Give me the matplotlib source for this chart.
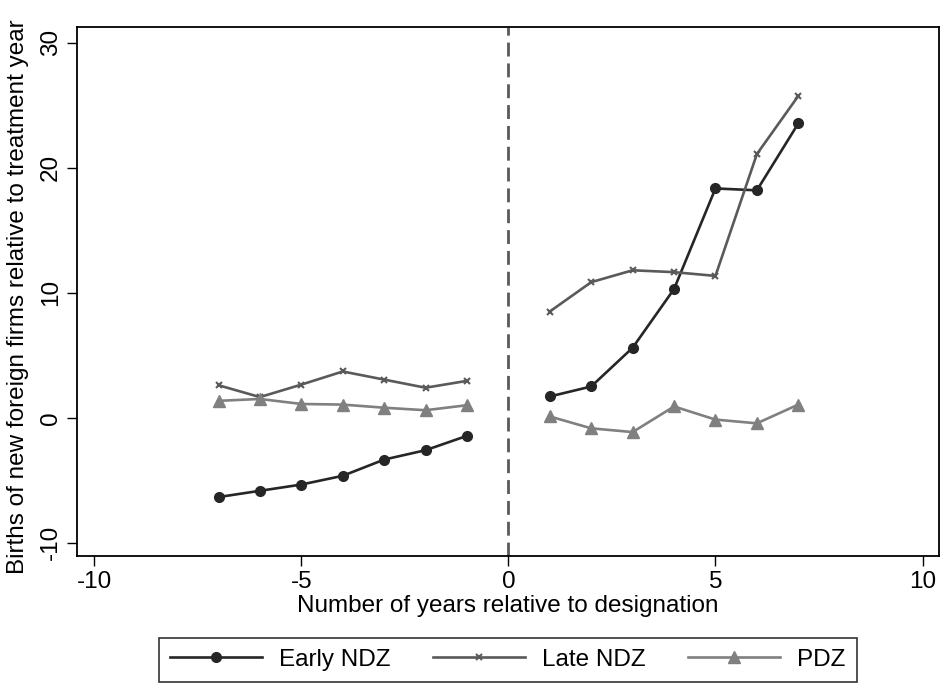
import matplotlib
matplotlib.use("Agg")
import matplotlib.pyplot as plt

plt.rcParams['font.family'] = ['Liberation Sans', 'DejaVu Sans']

years_pre = [-7, -6, -5, -4, -3, -2, -1]
years_post = [1, 2, 3, 4, 5, 6, 7]

early_pre = [-6.35, -5.85, -5.35, -4.65, -3.35, -2.6, -1.45]
early_post = [1.7, 2.5, 5.6, 10.3, 18.35, 18.2, 23.55]

late_pre = [2.6, 1.65, 2.65, 3.7, 3.05, 2.4, 2.95]
late_post = [8.5, 10.85, 11.8, 11.65, 11.35, 21.1, 25.75]

pdz_pre = [1.35, 1.5, 1.1, 1.05, 0.8, 0.6, 1.0]
pdz_post = [0.1, -0.85, -1.15, 0.9, -0.15, -0.45, 1.05]

xticks = [-10, -5, 0, 5, 10]
yticks = [-10, 0, 10, 20, 30]

c_early = '#262626'
c_late = '#5a5a5a'
c_pdz = '#808080'
fs = 17.5

fig = plt.figure(figsize=(9.45, 6.84), dpi=100)
ax = fig.add_axes([0.0818, 0.1871, 0.9115, 0.7734])

lw = 1.9
ax.plot(years_pre, early_pre, color=c_early, lw=lw, marker='o', ms=7, label='Early NDZ')
ax.plot(years_post, early_post, color=c_early, lw=lw, marker='o', ms=7)
ax.plot(years_pre, late_pre, color=c_late, lw=lw, marker='x', ms=4, mew=1.5, label='Late NDZ')
ax.plot(years_post, late_post, color=c_late, lw=lw, marker='x', ms=4, mew=1.5)
ax.plot(years_pre, pdz_pre, color=c_pdz, lw=lw, marker='^', ms=8, label='PDZ')
ax.plot(years_post, pdz_post, color=c_pdz, lw=lw, marker='^', ms=8)

ax.axvline(0, color=c_late, lw=2, linestyle=(0, (5, 2.5)))

ax.set_xlim(-10.41, 10.39)
ax.set_ylim(-11.07, 31.27)
ax.set_xticks(xticks)
ax.set_yticks(yticks)
ax.set_xticklabels([str(v) for v in xticks])
ax.set_yticklabels([str(v) for v in yticks], rotation=90, va='center')
ax.tick_params(direction='out', length=7, width=1, labelsize=fs, pad=4)

for s in ax.spines.values():
    s.set_linewidth(1.3)

ax.set_xlabel('Number of years relative to designation', fontsize=fs, labelpad=1)
ax.set_ylabel('Births of new foreign firms relative to treatment year', fontsize=fs)
ax.yaxis.set_label_coords(-0.056, 0.49)

leg = fig.legend(loc='lower center', bbox_to_anchor=(0.5375, 0.0), ncol=3,
                 fontsize=fs, frameon=True, fancybox=False, handlelength=3.8,
                 columnspacing=1.73, borderpad=0.45, handletextpad=0.7,
                 borderaxespad=0.1)
leg.get_frame().set_edgecolor('black')
leg.get_frame().set_linewidth(1.2)

fig.savefig('out.png', dpi=100)
